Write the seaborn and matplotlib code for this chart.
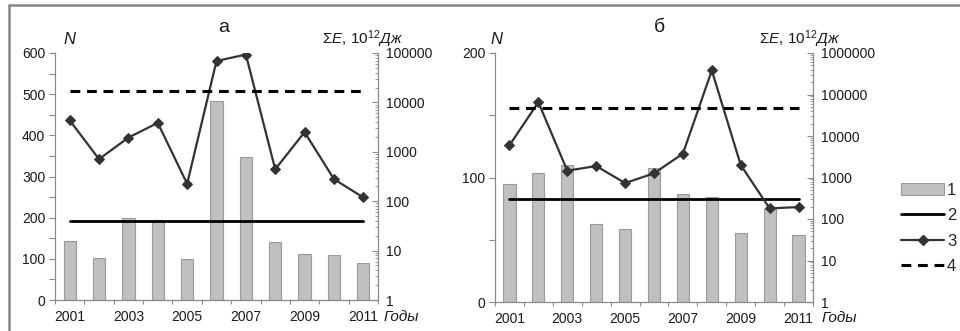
import numpy as np
import pandas as pd
import matplotlib
matplotlib.use("Agg")
import matplotlib.pyplot as plt
import seaborn as sns
from matplotlib.lines import Line2D
from matplotlib.patches import Patch
from matplotlib.ticker import LogLocator, FixedLocator, NullFormatter, FuncFormatter

# ---------------- data ----------------
years = ["2001", "2002", "2003", "2004", "2005", "2006", "2007", "2008", "2009", "2010", "2011"]
year_labels = ["2001", "", "2003", "", "2005", "", "2007", "", "2009", "", "2011"]

# panel а
n_a = [144, 101, 198, 194, 99, 483, 347, 140, 112, 109, 90]
e_a = [4340, 710, 1940, 3850, 225, 69000, 93000, 443, 2500, 280, 119]
n_mean_a = 193
e_mean_a = 17000   # dashed level (read on the right log axis)

# panel б
n_b = [94.5, 103.4, 110.3, 62.5, 58.5, 107.4, 86.4, 84, 55.3, 74.4, 54.2]
e_b = [5970, 65300, 1460, 1890, 735, 1260, 3760, 380000, 2000, 180, 194]
n_mean_b = 83
e_mean_b = 47000

legend_labels = ["1", "2", "3", "4"]

# ---------------- style ----------------
sns.set_theme(style="white")
plt.rcParams["font.family"] = ["Liberation Sans", "DejaVu Sans"]
plt.rcParams["mathtext.fontset"] = "custom"
plt.rcParams["mathtext.rm"] = "Liberation Sans"
plt.rcParams["mathtext.it"] = "Liberation Sans:italic"
plt.rcParams["mathtext.default"] = "rm"

BAR = "#c0c0c0"
BAR_EDGE = "#9a9a9a"
LINE3 = "#333333"
SPINE = "#8a8a8a"
TXT = "#1a1a1a"

fig = plt.figure(figsize=(9.6, 3.31), dpi=100)
W, H = 960, 331


def rect(l, t, r, b):
    return [l / W, 1 - b / H, (r - l) / W, (b - t) / H]


def panel(box, n, e, n_mean, e_mean, nmax, nmajor, emax):
    ax = fig.add_axes(rect(*box))
    df = pd.DataFrame({"year": years, "n": n})
    sns.barplot(data=df, x="year", y="n", ax=ax, color=BAR, edgecolor=BAR_EDGE,
                linewidth=0.8, width=0.42, saturation=1)
    ax.set_xlim(-0.5, len(years) - 0.5)
    ax.set_ylim(0, nmax)
    ax.set_xlabel("")
    ax.set_ylabel("")
    ax.set_xticks(np.arange(len(years)))
    ax.set_xticklabels(year_labels, fontsize=10, color=TXT)
    ax.tick_params(axis="x", which="major", length=0, pad=7)
    ax.xaxis.set_minor_locator(FixedLocator(np.arange(len(years) + 1) - 0.5))
    ax.tick_params(axis="x", which="minor", length=3, direction="out", color=SPINE, width=0.8, bottom=True)
    ax.set_yticks(np.arange(0, nmax + 1, nmajor))
    ax.yaxis.set_minor_locator(FixedLocator(np.arange(nmajor / 2, nmax, nmajor)))
    ax.tick_params(axis="y", which="both", length=4, direction="out", color=SPINE, width=0.8, left=True,
                   labelsize=10, labelcolor=TXT, pad=3)
    for s in ["top", "right"]:
        ax.spines[s].set_visible(False)
    for s in ["left", "bottom"]:
        ax.spines[s].set_color(SPINE)
        ax.spines[s].set_linewidth(0.9)
    ax.grid(False)

    # solid mean line (2) on N axis
    xs = np.arange(len(years))
    sns.lineplot(x=[xs[0], xs[-1]], y=[n_mean, n_mean], ax=ax, color="black", lw=2.0)

    # log axis
    ax2 = ax.twinx()
    sns.lineplot(x=xs, y=e, ax=ax2, color=LINE3, lw=1.6, marker="D", markersize=5,
                 markeredgecolor=LINE3, markerfacecolor=LINE3)
    sns.lineplot(x=[xs[0], xs[-1]], y=[e_mean, e_mean], ax=ax2, color="black", lw=2.2,
                 linestyle=(0, (3.2, 2.2)))
    ax2.set_yscale("log")
    ax2.set_ylim(1, emax)
    ax2.set_xlim(-0.5, len(years) - 0.5)
    ax2.yaxis.set_major_locator(LogLocator(base=10, numticks=10))
    ax2.yaxis.set_major_formatter(FuncFormatter(lambda v, p: f"{int(round(v))}"))
    ax2.yaxis.set_minor_locator(LogLocator(base=10, subs=np.arange(2, 10), numticks=20))
    ax2.yaxis.set_minor_formatter(NullFormatter())
    ax2.tick_params(axis="y", which="major", length=4, direction="in", color=SPINE, width=0.8,
                    labelsize=10, labelcolor=TXT, pad=6)
    ax2.tick_params(axis="y", which="minor", length=2.5, direction="in", color=SPINE, width=0.6)
    for s in ["top", "left", "bottom"]:
        ax2.spines[s].set_visible(False)
    ax2.spines["right"].set_color(SPINE)
    ax2.spines["right"].set_linewidth(0.9)
    ax2.set_ylabel("")
    ax2.set_xlabel("")
    ax2.grid(False)
    return ax, ax2


axa, axa2 = panel((55, 53, 378, 300), n_a, e_a, n_mean_a, e_mean_a, 600, 100, 1e5)
axb, axb2 = panel((495, 53, 813, 302), n_b, e_b, n_mean_b, e_mean_b, 200, 100, 1e6)

# texts
def ftext(x, y, s, **kw):
    fig.text(x / W, 1 - y / H, s, **kw)

ftext(224, 27, "а", fontsize=14, ha="center", va="center", color=TXT)
ftext(659, 27, "б", fontsize=14, ha="center", va="center", color=TXT)
ftext(63, 40, "N", fontsize=12, style="italic", ha="left", va="center", color=TXT)
ftext(490, 40, "N", fontsize=12, style="italic", ha="left", va="center", color=TXT)
for xr in (403, 840):
    ftext(xr, 39, r"Σ$\it{E}$, 10$^{12}$$\it{Дж}$", fontsize=11, ha="right", va="center", color=TXT)
ftext(384, 321, "Годы", fontsize=11, style="italic", ha="left", va="baseline", color=TXT)
ftext(822, 322, "Годы", fontsize=11, style="italic", ha="left", va="baseline", color=TXT)

# legend
handles = [
    Patch(facecolor=BAR, edgecolor=BAR_EDGE, linewidth=0.8),
    Line2D([0], [0], color="black", lw=2.0),
    Line2D([0], [0], color=LINE3, lw=1.6, marker="D", markersize=5),
    Line2D([0], [0], color="black", lw=2.2, linestyle=(0, (3.2, 2.2))),
]
fig.legend(handles, legend_labels, loc="upper left", bbox_to_anchor=(901 / W, 1 - 183 / H),
           frameon=False, fontsize=12, handlelength=2.6, handletextpad=0.15, labelspacing=0.62,
           borderaxespad=0, borderpad=0)

# outer frame (top and left edges)
fig.add_artist(Line2D([9 / W, 9 / W], [0, 1 - 5 / H], transform=fig.transFigure, color="#858585", lw=1.8))
fig.add_artist(Line2D([9 / W, 1], [1 - 5 / H, 1 - 5 / H], transform=fig.transFigure, color="#858585", lw=1.8))

fig.savefig("out.png", dpi=100)
